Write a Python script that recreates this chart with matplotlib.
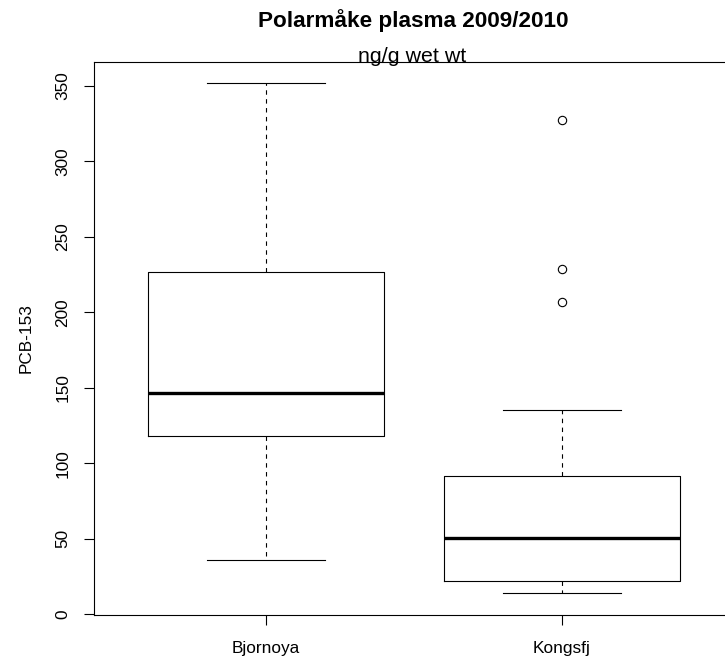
import matplotlib
matplotlib.use("Agg")
import matplotlib.pyplot as plt

plt.rcParams['font.family'] = ['Liberation Sans', 'DejaVu Sans']

categories = ["Bjornoya", "Kongsfj"]
whisker_low = [36, 14]
q1 = [118, 22]
medians = [146.5, 50.5]
q3 = [227, 91.5]
whisker_high = [352, 135]
outliers = [[], [327.5, 228.5, 206.5]]
yticks = [0, 50, 100, 150, 200, 250, 300, 350]

stats = []
for i, name in enumerate(categories):
    stats.append(dict(label=name, whislo=whisker_low[i], q1=q1[i], med=medians[i],
                      q3=q3[i], whishi=whisker_high[i], fliers=outliers[i]))

fig = plt.figure(figsize=(7.25, 6.62), dpi=100)
ax = fig.add_axes([94/725, 1-615/662, 1-94/725, (615-62)/662])

lw = 0.8
ax.bxp(stats, positions=[1, 2], widths=0.8, showfliers=True,
       boxprops=dict(color='black', linewidth=lw),
       medianprops=dict(color='black', linewidth=2.4, solid_capstyle='butt'),
       whiskerprops=dict(color='black', linewidth=lw, linestyle=(0, (4, 4))),
       capprops=dict(color='black', linewidth=lw),
       capwidths=0.4,
       flierprops=dict(marker='o', markerfacecolor='none', markeredgecolor='black',
                       markersize=6, markeredgewidth=0.8, linestyle='none'))

ax.set_xlim(1 - 172/296, 2 + 163/296)
ax.set_ylim(-1/1.5086, (614-62)/1.5086)

ax.spines['right'].set_visible(False)
for s in ['left', 'top', 'bottom']:
    ax.spines[s].set_linewidth(lw)

ax.set_yticks(yticks)
ax.set_yticklabels([str(v) for v in yticks], rotation=90, va='center')
ax.set_xticks([1, 2])
ax.set_xticklabels(categories)
ax.tick_params(axis='both', direction='out', length=7, width=lw, labelsize=12.4)
ax.tick_params(axis='y', pad=10)
ax.tick_params(axis='x', pad=12)

ax.set_ylabel("PCB-153", fontsize=12.4, labelpad=16)

fig.text(413/725, 1-21/662, "Polarmåke plasma 2009/2010", ha='center', va='center',
         fontsize=16.2, fontweight='bold')
fig.text(412/725, 1-62/662, "ng/g wet wt", ha='center', va='baseline',
         fontsize=15.4)

fig.savefig("out.png", dpi=100)
